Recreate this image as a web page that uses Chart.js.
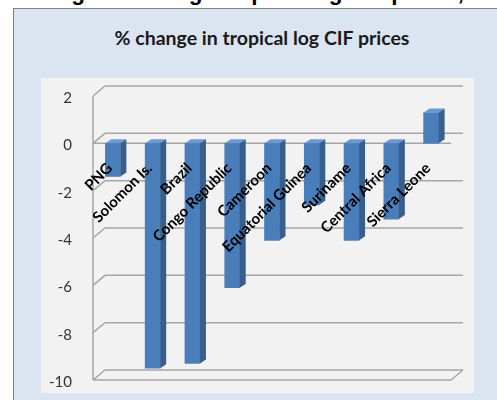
<!DOCTYPE html>
<html>
<head>
<meta charset="utf-8">
<script src="https://cdn.jsdelivr.net/npm/chart.js@4/dist/chart.umd.min.js"></script>
<style>
  html, body { margin: 0; padding: 0; background: #fff; width: 497px; height: 400px; overflow: hidden; }
  #pageTitle { position: absolute; left: 15px; top: -18px; font: bold 22.5px "Liberation Sans", Arial, sans-serif; line-height: 22px; white-space: nowrap; color: #000; }
  #frame { position: absolute; left: 13px; top: 8px; width: 520px; height: 420px; background: #dbe5f1; border-left: 1px solid #808080; border-top: 1px solid #808080; box-sizing: border-box; }
  #chartTitle { position: absolute; left: 13px; width: 498px; top: 26px; text-align: center; font: bold 19.5px Lato, sans-serif; color: #1a1a1a; }
  #plot { position: absolute; left: 41px; top: 78px; width: 433px; height: 315px; background: #f2f2f2; }
</style>
</head>
<body>
<div id="pageTitle">Change in average tropical log CIF prices, 20</div>
<div id="frame"></div>
<div id="chartTitle">% change in tropical log CIF prices</div>
<div id="plot"><canvas id="logChart" width="433" height="315"></canvas></div>
<script>
// ---- Data ----
const categories = ['PNG', 'Solomon Is.', 'Brazil', 'Congo Republic', 'Cameroon', 'Equatorial Guinea', 'Suriname', 'Central Africa', 'Sierra Leone'];
const priceChange = [-1.4, -9.5, -9.3, -6.1, -4.1, -2.6, -4.1, -3.2, 1.3];
const yMin = -10;
const yMax = 2;
const yStep = 2;

// ---- 3D look ----
const wall = { dx: 12, dy: -10 };
const barDepth = { dx: 6, dy: -4 };
const gridColor = '#a6a6a6';

const fake3d = {
  id: 'fake3d',
  beforeDatasetsDraw(chart) {
    const { ctx, chartArea: a, scales: { y } } = chart;
    ctx.save();
    ctx.strokeStyle = gridColor;
    ctx.lineWidth = 1.5;
    // back wall gridlines with the little step from the front edge
    y.ticks.forEach(t => {
      const py = y.getPixelForValue(t.value);
      ctx.beginPath();
      ctx.moveTo(a.left, py);
      ctx.lineTo(a.left + wall.dx, py + wall.dy);
      ctx.lineTo(a.right + wall.dx, py + wall.dy);
      ctx.stroke();
    });
    const yb = y.getPixelForValue(y.min);
    const y0 = y.getPixelForValue(0);
    ctx.beginPath();
    ctx.moveTo(a.left, yb);
    ctx.lineTo(a.right, yb);
    ctx.lineTo(a.right + wall.dx, yb + wall.dy);
    ctx.moveTo(a.left, y0);
    ctx.lineTo(a.right, y0);
    ctx.moveTo(a.left, y.getPixelForValue(y.max));
    ctx.lineTo(a.left, yb);
    ctx.stroke();
    ctx.restore();
  },
  afterDatasetsDraw(chart) {
    const ctx = chart.ctx;
    ctx.save();
    chart.getDatasetMeta(0).data.forEach(bar => {
      const { x, y, base, width } = bar.getProps(['x', 'y', 'base', 'width'], true);
      const l = x - width / 2, r = x + width / 2;
      const top = Math.min(y, base), bot = Math.max(y, base);
      // top face
      ctx.fillStyle = '#6d99d0';
      ctx.beginPath();
      ctx.moveTo(l, top);
      ctx.lineTo(l + barDepth.dx, top + barDepth.dy);
      ctx.lineTo(r + barDepth.dx, top + barDepth.dy);
      ctx.lineTo(r, top);
      ctx.closePath();
      ctx.fill();
      // side face
      ctx.fillStyle = '#385e8c';
      ctx.beginPath();
      ctx.moveTo(r, top);
      ctx.lineTo(r + barDepth.dx, top + barDepth.dy);
      ctx.lineTo(r + barDepth.dx, bot + barDepth.dy);
      ctx.lineTo(r, bot);
      ctx.closePath();
      ctx.fill();
    });
    ctx.restore();
  }
};

new Chart(document.getElementById('logChart'), {
  type: 'bar',
  data: {
    labels: categories,
    datasets: [{
      label: '% change',
      data: priceChange,
      backgroundColor: '#4a7ebb',
      borderWidth: 0,
      barThickness: 15
    }]
  },
  options: {
    responsive: false,
    animation: false,
    layout: { padding: { top: 18, right: 23, bottom: 13, left: 0 } },
    plugins: { legend: { display: false }, tooltip: { enabled: false } },
    scales: {
      x: {
        position: { y: 0 },
        grid: { display: false, drawTicks: false },
        border: { display: false },
        ticks: {
          autoSkip: false, minRotation: 45, maxRotation: 45, padding: 16, labelOffset: -3, z: 1,
          color: '#000', font: { family: 'Lato', weight: 'bold', size: 15 }
        },
        afterFit: s => { s.height = 0; }
      },
      y: {
        min: yMin, max: yMax,
        grid: { display: false, drawTicks: false },
        border: { display: false },
        ticks: { stepSize: yStep, padding: 21, labelOffset: 2, color: '#333', font: { family: 'Lato', size: 15 } },
        afterFit: s => { s.width = 52; s.paddingTop = 8; s.paddingBottom = 8; }
      }
    }
  },
  plugins: [fake3d]
});
</script>
</body>
</html>
